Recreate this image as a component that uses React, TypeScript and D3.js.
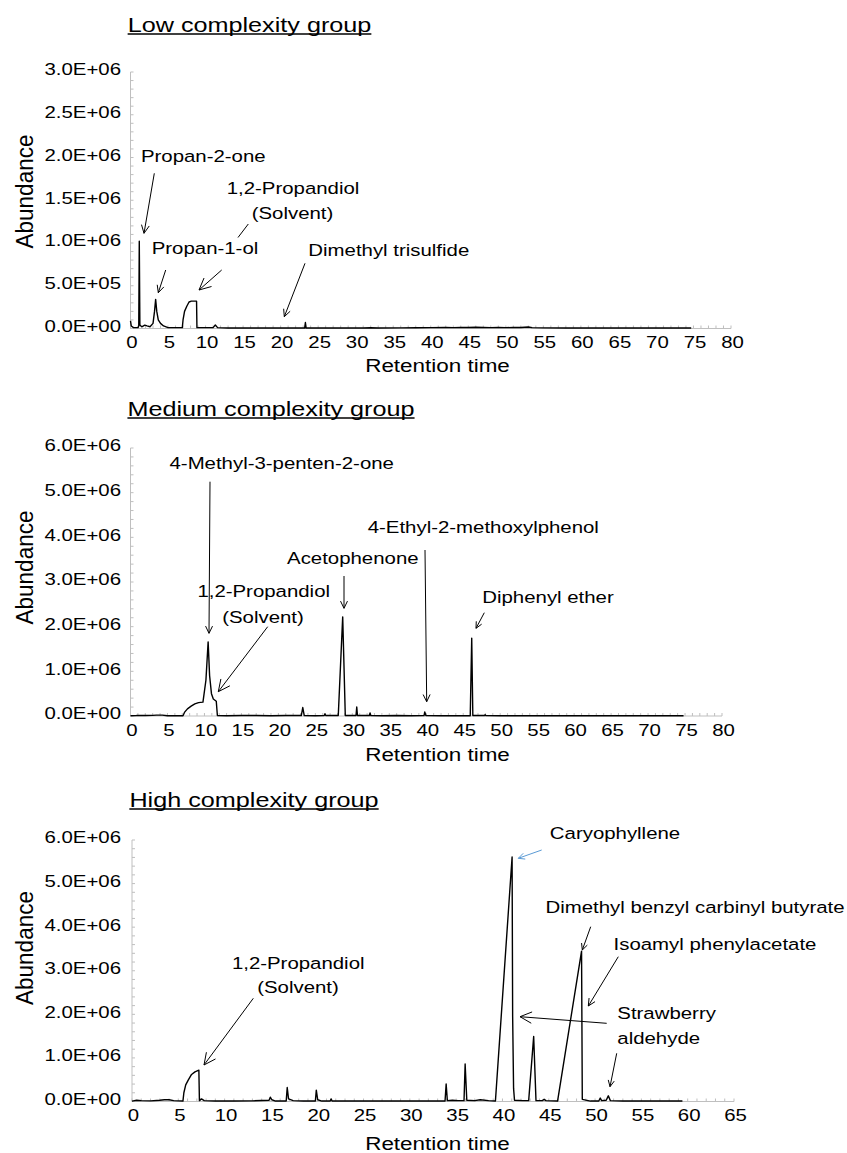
import * as d3 from "d3";

const FONT = "'Liberation Sans', Arial, Helvetica, sans-serif";

// retention time (min), abundance (x1E6)
const lowTrace: [number, number][] = [
  [0, 0.09], [0.1, 0.03], [0.4, 0.01], [1.0, 0.01], [1.1, 0.03], [1.17, 1.02], [1.25, 0.04],
  [1.5, 0.02], [1.9, 0.04], [2.2, 0.03], [2.6, 0.02], [3.0, 0.06], [3.2, 0.2], [3.35, 0.34],
  [3.5, 0.2], [3.7, 0.1], [4.0, 0.06], [4.4, 0.03], [5.0, 0.01], [6.0, 0.01], [6.9, 0.01],
  [7.0, 0.1], [7.2, 0.2], [7.5, 0.26], [7.8, 0.31], [8.1, 0.32], [8.5, 0.32], [8.8, 0.32],
  [8.85, 0.01], [9.5, 0.01], [11.0, 0.01], [11.3, 0.04], [11.6, 0.01], [13, 0.005], [15, 0.005],
  [17, 0.005], [19, 0.005], [21, 0.005], [23.2, 0.005], [23.3, 0.07], [23.4, 0.005], [25, 0.005],
  [28, 0.005], [31, 0.005], [32, 0.008], [33, 0.005], [36, 0.007], [38, 0.008], [40, 0.01],
  [42, 0.012], [43, 0.01], [44, 0.013], [45, 0.012], [46, 0.015], [47, 0.012], [48, 0.01],
  [49, 0.012], [50, 0.01], [51, 0.012], [52, 0.012], [53, 0.018], [53.5, 0.01], [55, 0.007],
  [58, 0.005], [62, 0.005], [66, 0.005], [70, 0.005], [74.7, 0.005],
];

const mediumTrace: [number, number][] = [
  [0, 0.005], [0.8, 0.01], [1.2, 0.015], [2.0, 0.01], [3.0, 0.015], [3.5, 0.02], [4.3, 0.02],
  [5, 0.005], [6, 0.005], [7.1, 0.005], [7.3, 0.08], [7.7, 0.16], [8.2, 0.22], [8.7, 0.27],
  [9.2, 0.3], [9.8, 0.31], [10.2, 0.8], [10.5, 1.66], [10.7, 0.9], [10.95, 0.5], [11.2, 0.38],
  [11.6, 0.33], [11.75, 0.01], [13, 0.005], [15, 0.01], [17, 0.01], [19, 0.005], [21, 0.01],
  [23.1, 0.01], [23.3, 0.19], [23.5, 0.01], [25, 0.005], [26.2, 0.01], [26.3, 0.05], [26.4, 0.01],
  [28.1, 0.01], [28.7, 2.22], [29.05, 0.01], [29.5, 0.01], [30.5, 0.01], [30.6, 0.2], [30.7, 0.01],
  [32.3, 0.01], [32.4, 0.07], [32.5, 0.01], [34, 0.005], [36, 0.01], [38, 0.005], [39.7, 0.01],
  [39.8, 0.09], [39.95, 0.01], [42, 0.005], [44, 0.005], [45.95, 0.005], [46.15, 1.74],
  [46.3, 0.01], [47.9, 0.01], [47.95, 0.03], [48.05, 0.01], [50, 0.005], [55, 0.005],
  [60, 0.005], [65, 0.005], [70, 0.005], [74.8, 0.005],
];

const highTrace: [number, number][] = [
  [0, 0.01], [0.5, 0.03], [1.0, 0.02], [2, 0.015], [3, 0.03], [3.5, 0.04], [4, 0.04], [4.5, 0.02],
  [5.5, 0.01], [5.6, 0.2], [5.8, 0.38], [6.07, 0.49], [6.43, 0.62], [6.8, 0.68], [7.22, 0.72],
  [7.28, 0.02], [7.5, 0.06], [7.8, 0.02], [9, 0.01], [11, 0.01], [13, 0.015], [14.8, 0.03],
  [14.93, 0.1], [15.1, 0.04], [15.5, 0.01], [16.65, 0.01], [16.76, 0.32], [16.9, 0.06],
  [17.4, 0.02], [18.5, 0.01], [19.8, 0.01], [19.9, 0.26], [20.05, 0.04], [20.5, 0.01],
  [21.4, 0.01], [21.5, 0.06], [21.6, 0.01], [23, 0.01], [26, 0.01], [29, 0.01], [31, 0.01],
  [33.8, 0.01], [33.92, 0.4], [34.05, 0.02], [34.6, 0.03], [35.2, 0.02], [35.85, 0.02],
  [35.97, 0.86], [36.15, 0.03], [37, 0.02], [37.6, 0.04], [38.5, 0.02], [39.24, 0.01],
  [41.04, 5.61], [41.1, 1.95], [41.2, 0.3], [41.3, 0.03], [42.2, 0.02], [42.83, 0.02],
  [43.37, 1.49], [43.62, 0.02], [44.3, 0.02], [44.5, 0.05], [44.7, 0.02], [45.95, 0.01],
  [48.54, 3.45], [48.62, 0.05], [49.5, 0.01], [50.4, 0.01], [50.56, 0.08], [50.7, 0.02],
  [51.2, 0.03], [51.43, 0.13], [51.65, 0.02], [53, 0.01], [55, 0.01], [57, 0.01], [59.43, 0.01],
];

const lowYTicks = [0, 0.5, 1, 1.5, 2, 2.5, 3];
const sixYTicks = [0, 1, 2, 3, 4, 5, 6];
const eightyXTicks = d3.range(0, 81, 5);
const sixtyFiveXTicks = d3.range(0, 66, 5);

const fmtE = (m: number) => {
  const v = m * 1e6;
  if (v === 0) return "0.0E+00";
  const e = Math.floor(Math.log10(v) + 1e-9);
  const mant = v / Math.pow(10, e);
  return `${mant.toFixed(1)}E+${String(e).padStart(2, "0")}`;
};

type Label = { text: string; x: number; y: number; anchor?: string };
type Arrow = { from: [number, number]; to: [number, number]; head?: number; color?: string };

const panels = [
  {
    title: "Low complexity group", titleX: 249.5, titleY: 32,
    trace: lowTrace, xMax: 80, xTicks: eightyXTicks, yMax: 3, yTicks: lowYTicks, yMinor: 0.1,
    xRange: [130.5, 731], yRange: [328.5, 72],
    xTitleY: 371.5, yTitleY: 191.5,
    labels: [
      { text: "Propan-2-one", x: 203.3, y: 156 },
      { text: "1,2-Propandiol", x: 293, y: 188 },
      { text: "(Solvent)", x: 292.5, y: 213 },
      { text: "Propan-1-ol", x: 205, y: 248 },
      { text: "Dimethyl trisulfide", x: 388.8, y: 250 },
    ] as Label[],
    arrows: [
      { from: [154.3, 173.3], to: [144, 233.3], head: 9 },
      { from: [248.3, 224], to: [238, 237.5], head: 0 },
      { from: [221.7, 270], to: [199, 290], head: 13 },
      { from: [165.7, 270], to: [158.3, 292.7], head: 8 },
      { from: [305, 263.3], to: [284.3, 316.7], head: 8 },
    ] as Arrow[],
  },
  {
    title: "Medium complexity group", titleX: 271, titleY: 416,
    trace: mediumTrace, xMax: 80, xTicks: eightyXTicks, yMax: 6, yTicks: sixYTicks, yMinor: 0.2,
    xRange: [130.5, 722], yRange: [716, 448],
    xTitleY: 761, yTitleY: 567.5,
    labels: [
      { text: "4-Methyl-3-penten-2-one", x: 281.7, y: 463.3 },
      { text: "1,2-Propandiol", x: 263.7, y: 590.7 },
      { text: "(Solvent)", x: 263, y: 616.7 },
      { text: "Acetophenone", x: 352.8, y: 558.3 },
      { text: "4-Ethyl-2-methoxylphenol", x: 483.3, y: 526.7 },
      { text: "Diphenyl ether", x: 548, y: 596.7 },
    ] as Label[],
    arrows: [
      { from: [210, 481.7], to: [209, 633.3], head: 8 },
      { from: [267.7, 626.7], to: [218.3, 691.7], head: 13 },
      { from: [344, 576], to: [344, 608.3], head: 8 },
      { from: [425, 550], to: [426.7, 701.7], head: 8 },
      { from: [484.3, 612.7], to: [476, 628.3], head: 7 },
    ] as Arrow[],
  },
  {
    title: "High complexity group", titleX: 254, titleY: 807,
    trace: highTrace, xMax: 65, xTicks: sixtyFiveXTicks, yMax: 6, yTicks: sixYTicks, yMinor: 0.2,
    xRange: [132, 734], yRange: [1101.5, 840],
    xTitleY: 1150, yTitleY: 948,
    labels: [
      { text: "1,2-Propandiol", x: 298.2, y: 962.7 },
      { text: "(Solvent)", x: 298, y: 987.3 },
      { text: "Caryophyllene", x: 615, y: 832.7 },
      { text: "Dimethyl benzyl carbinyl butyrate", x: 695, y: 906.7 },
      { text: "Isoamyl phenylacetate", x: 715, y: 944 },
      { text: "Strawberry", x: 617.3, y: 1013.3, anchor: "start" },
      { text: "aldehyde", x: 617.3, y: 1037.7, anchor: "start" },
    ] as Label[],
    arrows: [
      { from: [253.3, 998.3], to: [204, 1065], head: 13 },
      { from: [541.7, 850], to: [518.3, 858.3], head: 7, color: "#5b9bd5" },
      { from: [590.7, 926.7], to: [582.3, 950], head: 7 },
      { from: [618.3, 956.7], to: [588.3, 1006], head: 8 },
      { from: [606.7, 1023.3], to: [520, 1016.7], head: 13 },
      { from: [616.7, 1053.3], to: [610, 1086.7], head: 7 },
    ] as Arrow[],
  },
];

const SX = 1.2;

function Txt({ x, y, size, anchor = "middle", children, sx = SX }: any) {
  return (
    <text
      transform={`translate(${x},${y}) scale(${sx},1)`}
      fontSize={size}
      textAnchor={anchor}
      dy="0.35em"
      fontFamily={FONT}
      fill="#000"
    >
      {children}
    </text>
  );
}

function ArrowMark({ a }: { a: Arrow }) {
  const [x1, y1] = a.from;
  const [x2, y2] = a.to;
  const ang = Math.atan2(y2 - y1, x2 - x1);
  const h = a.head ?? 8;
  const spread = 0.45;
  const col = a.color ?? "#000";
  const p1 = [x2 - h * Math.cos(ang - spread), y2 - h * Math.sin(ang - spread)];
  const p2 = [x2 - h * Math.cos(ang + spread), y2 - h * Math.sin(ang + spread)];
  return (
    <g stroke={col} strokeWidth={1} fill="none">
      <line x1={x1} y1={y1} x2={x2} y2={y2} />
      {h > 0 && <polyline points={`${p1[0]},${p1[1]} ${x2},${y2} ${p2[0]},${p2[1]}`} />}
    </g>
  );
}

function TitleUnderline({ p }: { p: (typeof panels)[number] }) {
  const ctx = document.createElement("canvas").getContext("2d");
  let w = 240;
  if (ctx) {
    ctx.font = `21px ${FONT}`;
    w = ctx.measureText(p.title).width * SX;
  }
  return (
    <line
      x1={p.titleX - w / 2}
      x2={p.titleX + w / 2}
      y1={p.titleY + 2}
      y2={p.titleY + 2}
      stroke="#000"
      strokeWidth={1.3}
    />
  );
}

function Panel({ p }: { p: (typeof panels)[number] }) {
  const x = d3.scaleLinear().domain([0, p.xMax]).range(p.xRange);
  const y = d3.scaleLinear().domain([0, p.yMax]).range(p.yRange);
  const line = d3.line<[number, number]>().x((d) => x(d[0])).y((d) => y(d[1]));
  const yMinor = d3.range(0, p.yMax + 1e-9, p.yMinor);
  const xMinor = d3.range(0, p.xMax + 1e-9, 1);
  const grey = "#bfbfbf";
  return (
    <g>
      <Txt x={p.titleX} y={p.titleY - 7.5} size={21}>{p.title}</Txt>
      <TitleUnderline p={p} />
      {/* y axis */}
      <line x1={x(0)} x2={x(0)} y1={y(0)} y2={y(p.yMax)} stroke={grey} strokeWidth={1} />
      {yMinor.map((v, i) => (
        <line key={"ym" + i} x1={x(0)} x2={x(0) + 3} y1={y(v)} y2={y(v)} stroke={grey} strokeWidth={1} />
      ))}
      {p.yTicks.map((v) => (
        <Txt key={"yt" + v} x={121} y={y(v) - 2.5} size={17} anchor="end">{fmtE(v)}</Txt>
      ))}
      {/* x axis */}
      <line x1={x(0)} x2={x(p.xMax)} y1={y(0)} y2={y(0)} stroke={grey} strokeWidth={1.2} />
      {xMinor.map((t) => (
        <line key={"xm" + t} x1={x(t)} x2={x(t)} y1={y(0)} y2={y(0) - 3} stroke={grey} strokeWidth={1} />
      ))}
      {p.xTicks.map((t) => (
        <Txt key={"xt" + t} x={x(t) + 1.5} y={y(0) + 14} size={17}>{t}</Txt>
      ))}
      <Txt x={437.5} y={p.xTitleY - 6.5} size={18.7}>Retention time</Txt>
      <text
        transform={`translate(33,${p.yTitleY}) scale(1.1,1) rotate(-90)`}
        fontSize={22.5}
        textAnchor="middle"
        fontFamily={FONT}
        fill="#000"
      >
        Abundance
      </text>
      {/* trace */}
      <path d={line(p.trace) ?? ""} fill="none" stroke="#000" strokeWidth={1.4} strokeLinejoin="round" />
      {p.arrows.map((a, i) => (
        <ArrowMark key={"a" + i} a={a} />
      ))}
      {p.labels.map((l, i) => (
        <Txt key={"l" + i} x={l.x} y={l.y} size={17} anchor={l.anchor ?? "middle"}>{l.text}</Txt>
      ))}
    </g>
  );
}

export default function App() {
  return (
    <svg
      width={847}
      height={1153}
      style={{ position: "absolute", left: 0, top: 0, background: "#fff" }}
    >
      <rect width={847} height={1153} fill="#fff" />
      {panels.map((p, i) => (
        <Panel key={i} p={p} />
      ))}
    </svg>
  );
}
